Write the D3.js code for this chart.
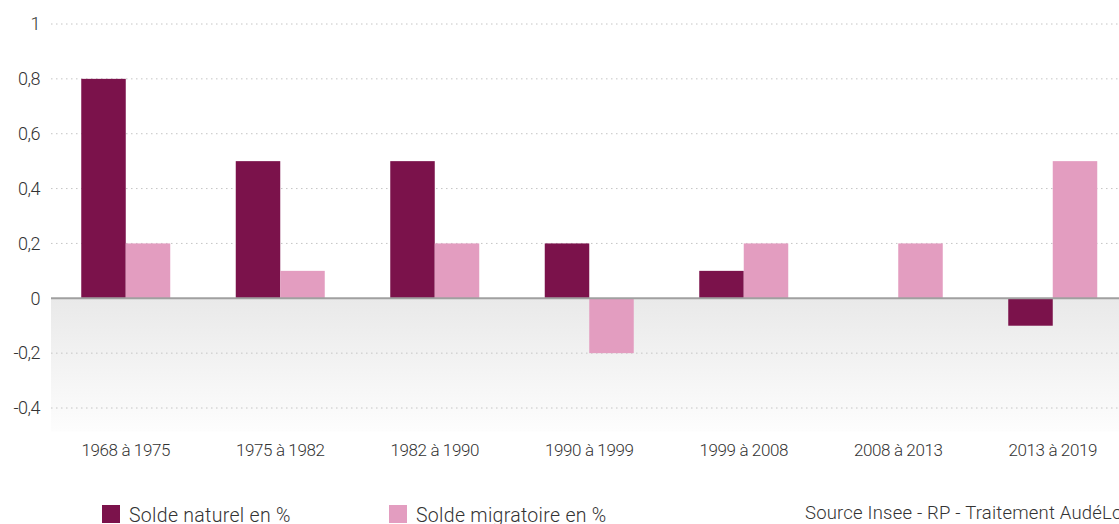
<!DOCTYPE html>
<html>
<head>
<meta charset="utf-8">
<script src="https://cdn.jsdelivr.net/npm/d3@7"></script>
<style>
  body { margin: 0; background: #fff; overflow: hidden; }
  text { font-family: Roboto, "Noto Sans", sans-serif; font-weight: 300; fill: #333; }
</style>
</head>
<body>
<div id="chart"></div>
<script>
// >-----------------< Data >-------------------<
const periods = ["1968 à 1975", "1975 à 1982", "1982 à 1990", "1990 à 1999", "1999 à 2008", "2008 à 2013", "2013 à 2019"];
const soldeNaturel = [0.8, 0.5, 0.5, 0.2, 0.1, 0, -0.1];
const soldeMigratoire = [0.2, 0.1, 0.2, -0.2, 0.2, 0.2, 0.5];
const yTicks = [-0.4, -0.2, 0, 0.2, 0.4, 0.6, 0.8, 1];
const seriesNames = ["Solde naturel en %", "Solde migratoire en %"];

const colors = ["#7b124b", "#e39dc0"];
const width = 1119, height = 524;

const svg = d3.select("#chart").append("svg")
  .attr("width", width)
  .attr("height", height);

const plotLeft = 51, plotRight = 1119;

const y = d3.scaleLinear()
  .domain([-0.4, 1])
  .range([408, 24]);

const yBottom = y(-0.485);

const x0 = d3.scaleBand()
  .domain(periods)
  .range([48.5, 1130])
  .paddingInner(0.424)
  .paddingOuter(0.212);

const x1 = d3.scaleBand()
  .domain([0, 1])
  .range([0, x0.bandwidth()]);

// Gradient below zero
const defs = svg.append("defs");
const grad = defs.append("linearGradient")
  .attr("id", "neg")
  .attr("x1", 0).attr("y1", 0).attr("x2", 0).attr("y2", 1);
grad.append("stop").attr("offset", "0%").attr("stop-color", "#e9e9e9");
grad.append("stop").attr("offset", "100%").attr("stop-color", "#fdfdfd");

svg.append("rect")
  .attr("x", plotLeft)
  .attr("y", y(0))
  .attr("width", plotRight - plotLeft)
  .attr("height", yBottom - y(0))
  .attr("fill", "url(#neg)");

// Grid + y labels
const yAxis = svg.append("g")
  .attr("transform", `translate(${plotLeft},0)`)
  .call(d3.axisLeft(y)
    .tickValues(yTicks)
    .tickSize(0)
    .tickPadding(11)
    .tickFormat(d => String(d).replace(".", ",")));
yAxis.select(".domain").remove();
yAxis.selectAll("text")
  .attr("font-size", 18)
  .attr("font-family", "Roboto, sans-serif")
  .attr("letter-spacing", -0.5)
  .attr("fill", "#333");

svg.append("g")
  .selectAll("line")
  .data(yTicks.filter(d => d !== 0))
  .enter().append("line")
  .attr("x1", plotLeft)
  .attr("x2", plotRight)
  .attr("y1", d => y(d))
  .attr("y2", d => y(d))
  .attr("stroke", "#c4c4c4")
  .attr("stroke-width", 1)
  .attr("stroke-dasharray", "1.5,3.5");

// Bars
const groups = svg.append("g")
  .selectAll("g")
  .data(periods.map((p, i) => ({ period: p, values: [soldeNaturel[i], soldeMigratoire[i]] })))
  .enter().append("g")
  .attr("transform", d => `translate(${x0(d.period)},0)`);

groups.selectAll("rect")
  .data(d => d.values.map((v, k) => ({ k, v })))
  .enter().append("rect")
  .attr("x", d => x1(d.k))
  .attr("y", d => y(Math.max(0, d.v)))
  .attr("width", x1.bandwidth())
  .attr("height", d => Math.abs(y(d.v) - y(0)))
  .attr("fill", d => colors[d.k]);

// Zero line
svg.append("line")
  .attr("x1", plotLeft)
  .attr("x2", plotRight)
  .attr("y1", y(0))
  .attr("y2", y(0))
  .attr("stroke", "#a0a0a0")
  .attr("stroke-width", 2);

// X labels
const xAxis = svg.append("g")
  .attr("transform", `translate(0,${yBottom})`)
  .call(d3.axisBottom(x0).tickSize(0).tickPadding(13));
xAxis.select(".domain").remove();
xAxis.selectAll("text")
  .attr("font-size", 17)
  .attr("font-family", "Roboto, sans-serif")
  .attr("letter-spacing", -0.4)
  .attr("fill", "#333");

// Legend
const legend = svg.append("g");
const legendX = [102, 389];
seriesNames.forEach((name, i) => {
  legend.append("rect")
    .attr("x", legendX[i])
    .attr("y", 505)
    .attr("width", 18)
    .attr("height", 18)
    .attr("fill", colors[i]);
  legend.append("text")
    .attr("x", legendX[i] + 27)
    .attr("y", 522)
    .attr("font-size", 19.5)
    .attr("letter-spacing", 0.3)
    .text(name);
});

svg.append("text")
  .attr("x", 805)
  .attr("y", 519)
  .attr("font-size", 18.5)
  .attr("letter-spacing", 0.2)
  .text("Source Insee - RP - Traitement AudéLor");
</script>
</body>
</html>
